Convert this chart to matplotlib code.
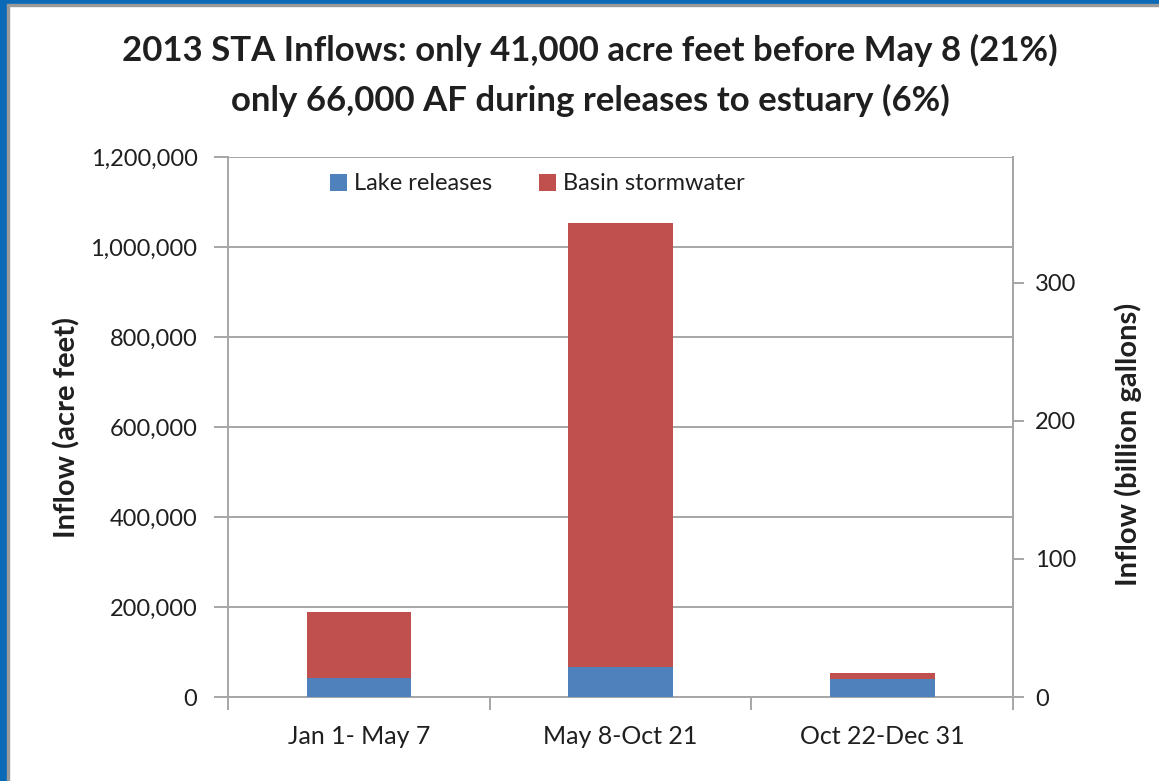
import matplotlib.pyplot as plt
import matplotlib.patches as mpatches
import numpy as np

# inflow volumes in acre feet
periods = ["Jan 1- May 7", "May 8-Oct 21", "Oct 22-Dec 31"]
lake_releases = [42000, 66000, 39000]
basin_stormwater = [148000, 987000, 14000]

left_ticks = [0, 200000, 400000, 600000, 800000, 1000000, 1200000]
right_ticks = [0, 100, 200, 300]
GAL_PER_AF = 325851 / 1e9  # billion gallons per acre foot

BLUE = "#4F81BD"
RED = "#C0504D"
GRID = "#a6a6a6"
TXT = "#1f1f1f"

plt.rcParams['font.family'] = ['Lato', 'DejaVu Sans']

fig = plt.figure(figsize=(11.59, 7.81), dpi=100)

# slide frame (blue edge on left and top)
fig.patches.append(mpatches.Rectangle((0, 0), 7 / 1159, 1, transform=fig.transFigure,
                                      color="#0a6ab8", zorder=0))
fig.patches.append(mpatches.Rectangle((7 / 1159, 0), 2 / 1159, 1, transform=fig.transFigure,
                                      color="#9a9a9a", zorder=0))
fig.patches.append(mpatches.Rectangle((0, 1 - 4 / 781), 1, 4 / 781, transform=fig.transFigure,
                                      color="#0a6ab8", zorder=0))
fig.patches.append(mpatches.Rectangle((7 / 1159, 1 - 6 / 781), 1, 2 / 781, transform=fig.transFigure,
                                      color="#9a9a9a", zorder=0))

ax = fig.add_axes([228 / 1159, 1 - 697 / 781, 785 / 1159, 540 / 781])
x = np.arange(len(periods))
ax.bar(x, lake_releases, width=0.4, color=BLUE, label="Lake releases", zorder=3)
ax.bar(x, basin_stormwater, width=0.4, bottom=lake_releases, color=RED,
       label="Basin stormwater", zorder=3)

ax.set_xlim(-0.5, 2.5)
ax.set_ylim(0, 1200000)
ax.set_yticks(left_ticks)
ax.set_yticklabels([f"{v:,}" for v in left_ticks], fontsize=17, color=TXT)
ax.yaxis.grid(True, color=GRID, linewidth=1.4, zorder=0)
ax.tick_params(axis='y', length=10, width=1.4, color=GRID, pad=12)

ax.set_xticks(x)
ax.set_xticklabels(periods, fontsize=18, color=TXT)
ax.set_xticks([-0.5, 0.5, 1.5, 2.5], minor=True)
ax.tick_params(axis='x', which='major', length=0, pad=20)
ax.tick_params(axis='x', which='minor', length=9, width=1.4, color=GRID)

for side in ['left', 'bottom', 'right']:
    ax.spines[side].set_color(GRID)
    ax.spines[side].set_linewidth(1.4)
ax.spines['top'].set_visible(False)

ax2 = ax.twinx()
ax2.set_ylim(0, 1200000 * GAL_PER_AF)
ax2.set_yticks(right_ticks)
ax2.set_yticklabels([str(v) for v in right_ticks], fontsize=17, color=TXT)
ax2.tick_params(axis='y', length=8, width=1.4, color=GRID, pad=8)
for side in ['left', 'bottom', 'top']:
    ax2.spines[side].set_visible(False)
ax2.spines['right'].set_color(GRID)
ax2.spines['right'].set_linewidth(1.4)

fig.text(67 / 1159, 1 - 428 / 781, "Inflow (acre feet)", rotation=90, ha='center',
         va='center', fontsize=21, fontweight='bold', color=TXT)
fig.text(1128 / 1159, 1 - 444 / 781, "Inflow (billion gallons)", rotation=90, ha='center',
         va='center', fontsize=21, fontweight='bold', color=TXT)

leg = ax.legend(loc='center', bbox_to_anchor=(0.394, 0.95), ncol=2, frameon=False,
                fontsize=17, handlelength=0.7, handleheight=0.7, handletextpad=0.3,
                columnspacing=2.0)
for t in leg.get_texts():
    t.set_color(TXT)

fig.text(0.509, 1 - 50 / 781, "2013 STA Inflows: only 41,000 acre feet before May 8 (21%)",
         ha='center', va='center', fontsize=25, fontweight='bold', color=TXT)
fig.text(0.509, 1 - 100 / 781, "only 66,000 AF during releases to estuary (6%)",
         ha='center', va='center', fontsize=25, fontweight='bold', color=TXT)

fig.savefig("out.png", dpi=100, facecolor='white')
